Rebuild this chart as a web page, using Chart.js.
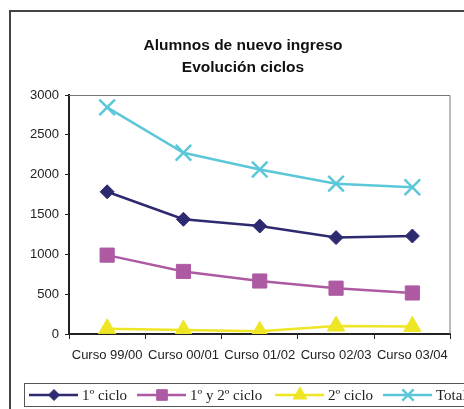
<!DOCTYPE html>
<html>
<head>
<meta charset="utf-8">
<script src="https://cdn.jsdelivr.net/npm/chart.js@4.4.1/dist/chart.umd.min.js"></script>
<style>
  html, body { margin: 0; background: #fff; }
  #wrap { width: 464px; height: 409px; position: relative; }
</style>
</head>
<body>
<div id="wrap"><canvas id="ciclosChart"></canvas></div>
<script>
// datos
const cursos = ['Curso 99/00', 'Curso 00/01', 'Curso 01/02', 'Curso 02/03', 'Curso 03/04'];
const ciclo1 = [1785, 1440, 1355, 1210, 1230];
const ciclo1y2 = [990, 785, 665, 575, 515];
const ciclo2 = [65, 50, 35, 100, 95];
const total = [2845, 2275, 2065, 1887, 1842];
const yTicks = [0, 500, 1000, 1500, 2000, 2500, 3000];

const sans = "'Liberation Sans', Arial, sans-serif";
const serif = "'Liberation Serif', 'Times New Roman', serif";

function serie(label, data, color, style, radius) {
    return {
        label: label,
        data: data,
        borderColor: color,
        backgroundColor: color,
        pointBackgroundColor: color,
        pointBorderColor: color,
        borderWidth: 2.5,
        pointStyle: style,
        pointRadius: radius,
        pointBorderWidth: style === 'crossRot' ? 2.5 : 1,
        tension: 0
    };
}

// marco exterior, titulo, borde del area y leyenda
const decoracion = {
    id: 'decoracion',
    beforeDraw(chart) {
        const c = chart.ctx;
        c.save();
        c.strokeStyle = '#444';
        c.lineWidth = 2;
        c.strokeRect(10, 11, 600, 600);
        c.restore();
    },
    afterDraw(chart) {
        const c = chart.ctx;
        const a = chart.chartArea;
        c.save();
        // titulo
        c.fillStyle = '#111';
        c.font = 'bold 15.5px ' + sans;
        c.textAlign = 'center';
        c.textBaseline = 'middle';
        c.fillText('Alumnos de nuevo ingreso', 243, 46);
        c.fillText('Evolución ciclos', 243, 68);

        // borde superior y derecho del area de trazado
        c.strokeStyle = '#777';
        c.lineWidth = 1;
        c.beginPath();
        c.moveTo(a.left, a.top + 0.5);
        c.lineTo(a.right - 0.5, a.top + 0.5);
        c.lineTo(a.right - 0.5, a.bottom);
        c.stroke();

        // leyenda
        c.strokeStyle = '#555';
        c.strokeRect(24.5, 383.5, 500, 23);
        const xs = [29, 137, 275, 383];
        const radios = [5.5, 7.5, 8, 8];
        c.font = '15px ' + serif;
        c.textAlign = 'left';
        chart.data.datasets.forEach((ds, i) => {
            const x0 = xs[i], y = 395;
            c.strokeStyle = ds.borderColor;
            c.lineWidth = 2.5;
            c.beginPath();
            c.moveTo(x0, y);
            c.lineTo(x0 + 49, y);
            c.stroke();
            if (Chart.helpers && Chart.helpers.drawPoint) {
                c.fillStyle = ds.borderColor;
                c.lineWidth = ds.pointStyle === 'crossRot' ? 2.5 : 1;
                Chart.helpers.drawPoint(c, { pointStyle: ds.pointStyle, radius: radios[i], rotation: 0, borderWidth: c.lineWidth }, x0 + 25, y);
            }
            c.fillStyle = '#222';
            c.fillText(ds.label, x0 + 53, y + 1);
        });
        c.restore();
    }
};

const ctx = document.getElementById('ciclosChart').getContext('2d');
new Chart(ctx, {
    type: 'line',
    data: {
        labels: cursos,
        datasets: [
            serie('1º ciclo', ciclo1, '#2e2a70', 'rectRot', 7),
            serie('1º y 2º ciclo', ciclo1y2, '#ad5aa3', 'rect', 10),
            serie('2º ciclo', ciclo2, '#eee625', 'triangle', 10),
            serie('Total', total, '#5cc7d8', 'crossRot', 11)
        ]
    },
    options: {
        responsive: true,
        maintainAspectRatio: false,
        animation: false,
        layout: { padding: { top: 95, right: 5, bottom: 35, left: 0 } },
        plugins: {
            legend: { display: false },
            title: { display: false },
            tooltip: { enabled: false }
        },
        scales: {
            x: {
                offset: true,
                grid: { offset: true, drawOnChartArea: false, tickLength: 5, color: '#222', lineWidth: 1 },
                border: { color: '#222', width: 2 },
                ticks: { color: '#222', font: { size: 13, family: sans }, padding: 9, maxRotation: 0, autoSkip: false },
                afterFit: s => { s.height = 40; }
            },
            y: {
                min: 0,
                max: 3000,
                afterBuildTicks: s => { s.ticks = yTicks.map(v => ({ value: v })); },
                grid: { drawOnChartArea: false, tickLength: 4, color: '#222', lineWidth: 1 },
                border: { color: '#222', width: 2 },
                ticks: { color: '#222', font: { size: 13, family: sans }, padding: 6, callback: v => String(v) },
                afterFit: s => { s.width = 69; }
            }
        }
    },
    plugins: [decoracion]
});
</script>
</body>
</html>
